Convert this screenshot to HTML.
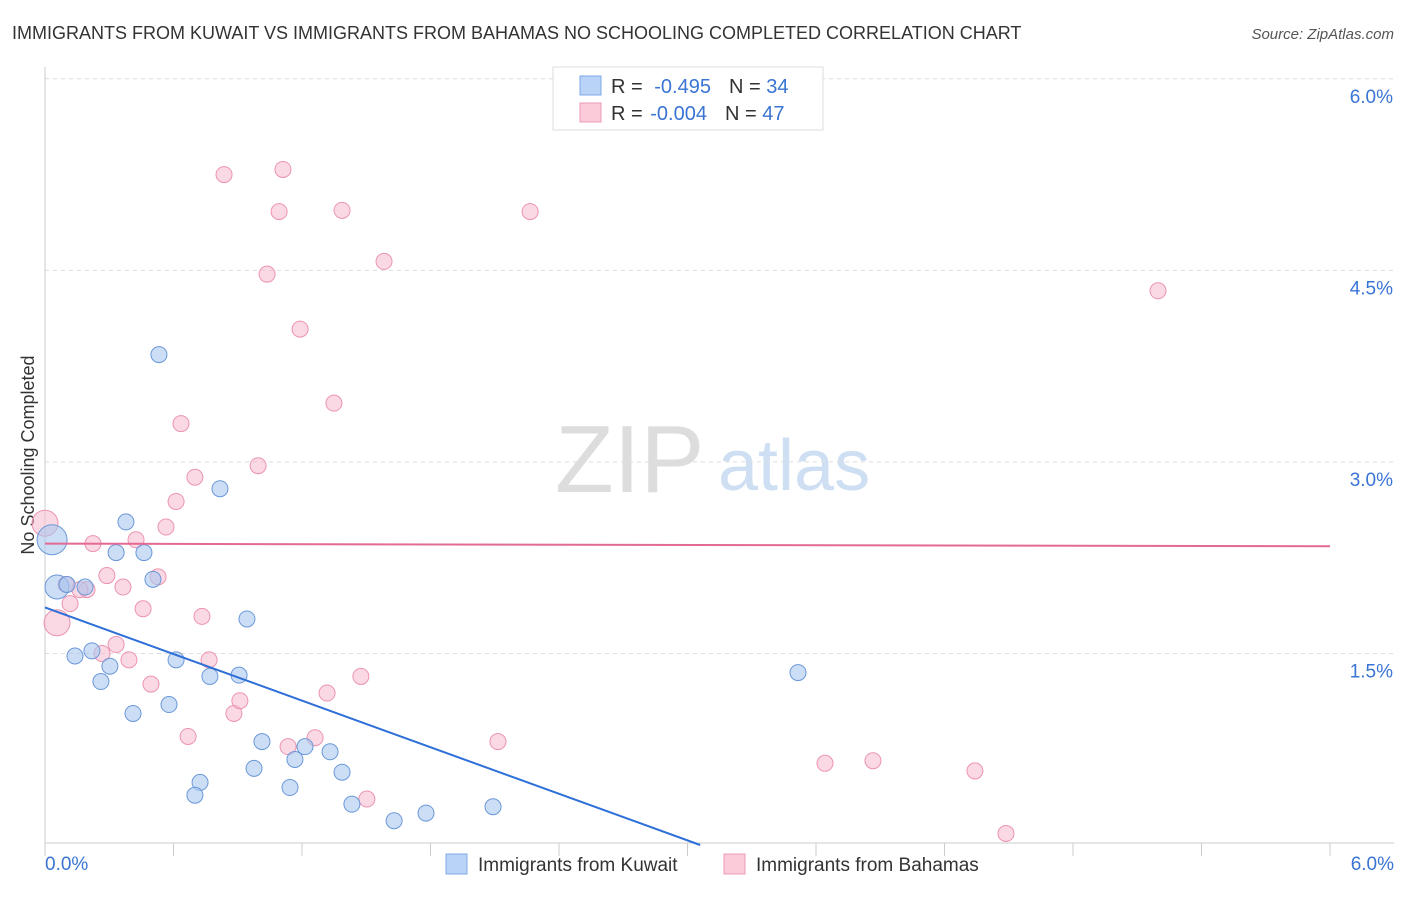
<!DOCTYPE html>
<html><head><meta charset="utf-8"><style>
body{margin:0;background:#fff;font-family:"Liberation Sans",sans-serif}
svg text{font-family:"Liberation Sans",sans-serif}
</style></head><body>
<svg id="chart" width="1406" height="892" xmlns="http://www.w3.org/2000/svg">
<text x="12" y="39" font-size="18" fill="#333">IMMIGRANTS FROM KUWAIT VS IMMIGRANTS FROM BAHAMAS NO SCHOOLING COMPLETED CORRELATION CHART</text>
<text x="1394" y="39" font-size="15" fill="#555" text-anchor="end" font-style="italic">Source: ZipAtlas.com</text>
<text x="34" y="455" font-size="18" fill="#333" text-anchor="middle" transform="rotate(-90 34 455)">No Schooling Completed</text>
<text x="555" y="492" font-size="96" fill="#ddd" font-family="Liberation Serif">ZIP</text>
<text x="718" y="490" font-size="72" fill="#cfdff3">atlas</text>
<g id="grid"></g><g id="pts"></g><g id="lines"></g>
<g>
<rect x="553" y="67" width="270" height="63" fill="#fff" stroke="#ddd"/>
<rect x="580" y="76" width="21" height="19" fill="#b8d3f5" stroke="#7ea9e6"/>
<rect x="580" y="103" width="21" height="19" fill="#fbcbd9" stroke="#ee9ab4"/>
<text x="611" y="93" font-size="20" fill="#333">R = <tspan fill="#3a74d4" dx="6">-0.495</tspan><tspan dx="18" fill="#333">N = </tspan><tspan fill="#3a74d4">34</tspan></text>
<text x="611" y="120" font-size="20" fill="#333">R = <tspan fill="#3a74d4" dx="2">-0.004</tspan><tspan dx="18" fill="#333">N = </tspan><tspan fill="#3a74d4">47</tspan></text>
</g>
<g>
<rect x="446" y="854" width="21" height="20" fill="#b8d3f5" stroke="#7ea9e6"/>
<text x="478" y="871" font-size="19" fill="#333">Immigrants from Kuwait</text>
<rect x="724" y="854" width="21" height="20" fill="#fbcbd9" stroke="#ee9ab4"/>
<text x="756" y="871" font-size="19" fill="#333">Immigrants from Bahamas</text>
</g>
</svg>
<script>
const yTicks=[1.5,3.0,4.5,6.0];
const xTickLabels=["0.0%","6.0%"];
const kuwaitX=[0.033,0.056,0.103,0.187,0.378,0.332,0.462,0.532,0.504,0.817,0.140,0.219,0.261,0.303,0.411,0.579,0.612,0.770,0.943,0.906,1.013,0.976,0.724,0.700,1.144,1.167,1.214,1.331,1.387,1.433,1.630,1.779,2.092,3.516];
const kuwaitY=[2.39,2.02,2.04,2.02,2.53,2.29,2.29,3.84,2.08,2.79,1.48,1.52,1.28,1.40,1.03,1.10,1.45,1.32,1.77,1.33,0.81,0.60,0.49,0.39,0.45,0.67,0.77,0.73,0.57,0.32,0.19,0.25,0.30,1.35];
const kuwaitR=[15,12,8,8,8,8,8,8,8,8,8,8,8,8,8,8,8,8,8,8,8,8,8,8,8,8,8,8,8,8,8,8,8,8];
const bahamasX=[0.0,0.056,0.098,0.117,0.196,0.224,0.266,0.289,0.332,0.364,0.392,0.425,0.458,0.495,0.528,0.565,0.612,0.635,0.668,0.700,0.733,0.766,0.836,0.882,0.910,0.995,1.037,1.093,1.111,1.135,1.191,1.261,1.317,1.349,1.387,1.475,1.503,1.583,2.115,2.265,3.642,3.866,4.342,4.487,5.197,3.124,0.163];
const bahamasY=[2.52,1.74,2.04,1.89,2.00,2.36,1.50,2.11,1.57,2.02,1.45,2.39,1.85,1.26,2.10,2.49,2.69,3.30,0.85,2.88,1.79,1.45,5.25,1.03,1.13,2.97,4.47,4.96,5.29,0.77,4.04,0.84,1.19,3.46,4.97,1.32,0.36,4.57,0.81,4.96,0.64,0.66,0.58,0.09,4.34,5.73,2.00];
const kuwaitTrend=[1.86,-0.608];
const bahamasTrend=[2.36,-0.0035];
const X0=45,X1=1330,Y0=845,PX=(X1-X0)/6,PY=127.7;
const sx=v=>X0+v*PX, sy=v=>Y0-v*PY;
const NS="http://www.w3.org/2000/svg";
function mk(t,a,p){const e=document.createElementNS(NS,t);for(const k in a)e.setAttribute(k,a[k]);p.appendChild(e);return e;}
const g=document.getElementById('grid');
yTicks.forEach(v=>{
 const l=mk('line',{x1:45,x2:1394,y1:sy(v),y2:sy(v),stroke:'#ddd','stroke-dasharray':'4,4'},g);
 
 
 const t=mk('text',{x:1393,y:sy(v)+24,'font-size':19,fill:'#3a74d4','text-anchor':'end'},g);
 t.textContent=v.toFixed(1)+'%';
 
 
});
mk('line',{x1:45,x2:45,y1:67,y2:843,stroke:'#ccc'},g);
mk('line',{x1:45,x2:1394,y1:843,y2:843,stroke:'#ccc'},g);
for(let i=0;i<=10;i++){const l=mk('line',{x1:sx(i*0.6),x2:sx(i*0.6),y1:843,y2:856,stroke:'#ccc'},g);
 
 }
[[45,'start',0],[1394,'end',1]].forEach(([x,a,i])=>{const t=mk('text',{x:x,y:870,'font-size':19,fill:'#3a74d4','text-anchor':a},g);t.textContent=xTickLabels[i];
 
 });
const P=document.getElementById('pts');
bahamasX.forEach((v,i)=>{const c=mk('circle',{cx:sx(v),cy:sy(bahamasY[i]),r:(i<2?13:8),fill:'#f7b9cd','fill-opacity':0.55,stroke:'#ec94b0','stroke-width':1},P);
 
 });
kuwaitX.forEach((v,i)=>{const c=mk('circle',{cx:sx(v),cy:sy(kuwaitY[i]),r:kuwaitR[i],fill:'#a9c8f0','fill-opacity':0.6,stroke:'#6b98d8','stroke-width':1},P);
 
 });
const L=document.getElementById('lines');
const xe=-kuwaitTrend[0]/kuwaitTrend[1];
const k=mk('line',{x1:sx(0),y1:sy(kuwaitTrend[0]),x2:sx(xe),y2:sy(0),stroke:'#2e6fd8','stroke-width':2},L);


const b=mk('line',{x1:sx(0),y1:sy(bahamasTrend[0]),x2:sx(6),y2:sy(bahamasTrend[0]+6*bahamasTrend[1]),stroke:'#e26a93','stroke-width':2},L);


</script>
</body></html>
